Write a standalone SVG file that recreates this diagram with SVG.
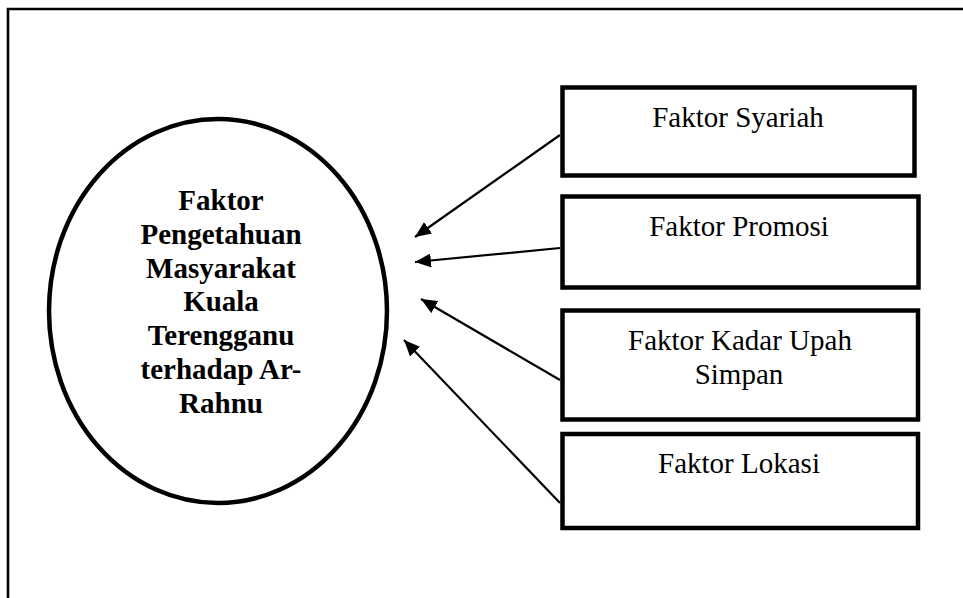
<svg xmlns="http://www.w3.org/2000/svg" width="963" height="598" viewBox="0 0 963 598">
<style>
.box{fill:#fff;stroke:#000;stroke-width:4.5}
.lbl{font-family:"Liberation Serif","Times New Roman",serif;font-size:29px;fill:#000;text-anchor:middle}
.bold{font-weight:bold}
.conn{stroke:#000;stroke-width:2.2;fill:none;marker-end:url(#ah)}
</style>
<defs>
<marker id="ah" markerUnits="userSpaceOnUse" markerWidth="18" markerHeight="14" refX="16" refY="7" orient="auto">
<path d="M0,0 L16,7 L0,14 Z" fill="#000"/>
</marker>
</defs>
<rect width="963" height="598" fill="#fff"/>
<path d="M8,600 L8,9 L965,9" fill="none" stroke="#000" stroke-width="2.6"/>
<g id="center">
<ellipse cx="218" cy="311" rx="169" ry="192" fill="#fff" stroke="#000" stroke-width="4.5"/>
<text class="lbl bold" x="221" y="210">Faktor</text>
<text class="lbl bold" x="221" y="244">Pengetahuan</text>
<text class="lbl bold" x="221" y="278">Masyarakat</text>
<text class="lbl bold" x="221" y="311">Kuala</text>
<text class="lbl bold" x="221" y="345">Terengganu</text>
<text class="lbl bold" x="221" y="379">terhadap Ar-</text>
<text class="lbl bold" x="221" y="413">Rahnu</text>
</g>
<g id="syariah">
<rect class="box" x="562.5" y="87.5" width="352" height="88"/>
<text class="lbl" x="738" y="127">Faktor Syariah</text>
</g>
<g id="promosi">
<rect class="box" x="562.5" y="196.5" width="356" height="91"/>
<text class="lbl" x="739" y="236">Faktor Promosi</text>
</g>
<g id="kadar">
<rect class="box" x="562.5" y="310.5" width="355.5" height="109"/>
<text class="lbl" x="740" y="350">Faktor Kadar Upah</text>
<text class="lbl" x="739" y="384">Simpan</text>
</g>
<g id="lokasi">
<rect class="box" x="562.5" y="434" width="355.5" height="94"/>
<text class="lbl" x="739" y="473">Faktor Lokasi</text>
</g>
<g id="connectors">
<line class="conn" x1="560" y1="135" x2="415" y2="237"/>
<line class="conn" x1="560" y1="248" x2="415" y2="262"/>
<line class="conn" x1="560" y1="380" x2="421" y2="299"/>
<line class="conn" x1="560" y1="503" x2="404" y2="340"/>
</g>
</svg>
